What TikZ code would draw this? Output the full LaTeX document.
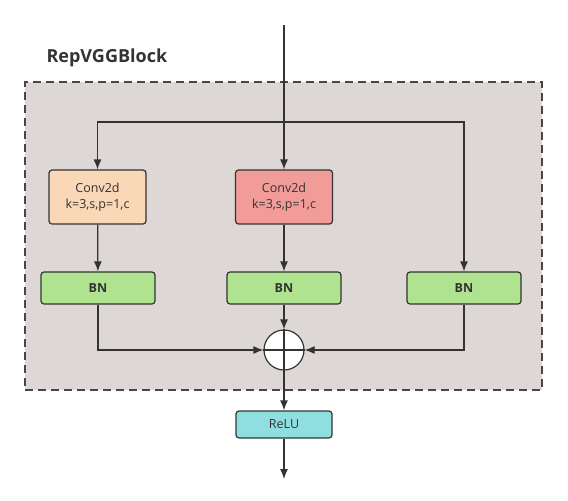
\documentclass[tikz,border=0pt]{standalone}
\usepackage{fontspec}
\setmainfont{Open Sans}
\usetikzlibrary{arrows.meta}
\definecolor{bggray}{RGB}{221,216,214}
\definecolor{edge}{RGB}{51,51,51}
\definecolor{peach}{RGB}{250,215,182}
\definecolor{rosy}{RGB}{241,156,153}
\definecolor{bngreen}{RGB}{176,227,143}
\definecolor{cyanbox}{RGB}{144,223,224}
\begin{document}
\begin{tikzpicture}[x=1pt,y=-1pt,
  box/.style={draw=edge,line width=1.2pt,rounded corners=3pt,inner sep=0pt,align=center,text=edge},
  conv/.style={box,minimum width=97pt,minimum height=54pt,font=\fontsize{12.5}{16}\selectfont},
  bn/.style={box,fill=bngreen,minimum width=114pt,minimum height=32pt,font=\fontsize{12.5}{15}\selectfont\bfseries},
  arr/.style={draw=edge,line width=1.2pt,-{Latex[length=10pt,width=8pt]}},
  ln/.style={draw=edge,line width=1.2pt}]
\useasboundingbox (0,0) rectangle (568,501);
\node[draw=edge!90,fill=bggray,dashed,dash pattern=on 8pt off 5pt,line width=1.3pt,minimum width=517pt,minimum height=308pt,inner sep=0pt] (blk) at (283.5,236) {};
\node[anchor=west,font=\fontsize{18}{22}\selectfont\bfseries,text=edge] (title) at (43,58) {RepVGGBlock};
\coordinate (in) at (284,25);
\node[conv,fill=peach] (c1) at (97.5,197) {Conv2d\\k=3,s,p=1,c};
\node[conv,fill=rosy] (c2) at (284,197) {Conv2d\\k=3,s,p=1,c};
\node[bn] (b1) at (98,288) {BN};
\node[bn] (b2) at (284,288) {BN};
\node[bn] (b3) at (464,288) {BN};
\node[circle,draw=edge,fill=white,line width=1.2pt,minimum size=40pt,inner sep=0pt] (add) at (284,350) {};
\draw[ln] (add.north) -- (add.south) (add.west) -- (add.east);
\node[box,fill=cyanbox,minimum width=96pt,minimum height=27pt,font=\fontsize{12.5}{15}\selectfont] (relu) at (284,424.5) {ReLU};
\coordinate (out) at (284,479);
\coordinate (split) at (284,122);
\draw[arr] (in) -- (c2.north);
\draw[arr] (split) -| (c1.north);
\draw[arr] (split) -| (b3.north);
\draw[arr] (c1) -- (b1);
\draw[arr] (c2) -- (b2);
\draw[arr] (b2) -- (add);
\draw[arr] (b1.south) |- (add.west);
\draw[arr] (b3.south) |- (add.east);
\draw[arr] (add) -- (relu);
\draw[arr] (relu) -- (out);
\end{tikzpicture}
\end{document}
